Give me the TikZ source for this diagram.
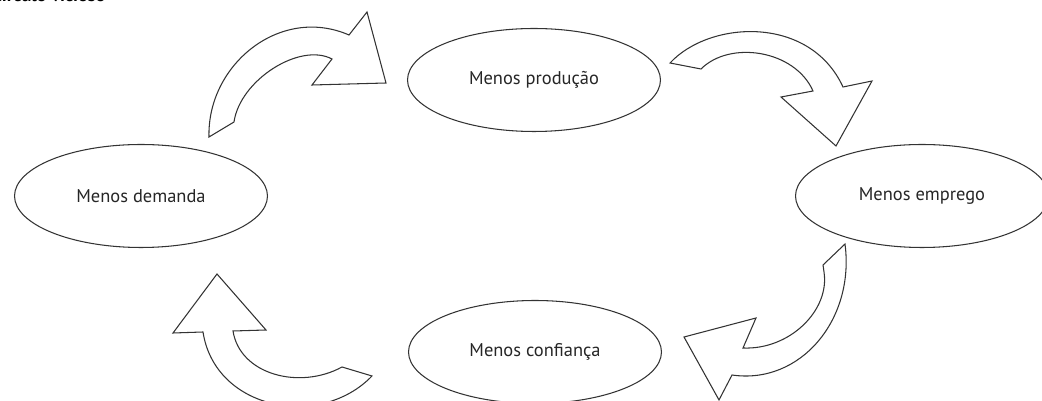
\documentclass[tikz,border=0pt]{standalone}
\usepackage{fontspec}
\setmainfont{PT Sans}
\usetikzlibrary{shapes.geometric}

\begin{document}
\begin{tikzpicture}[x=0.02cm, y=-0.02cm, line width=0.6pt,
    bolha/.style={draw=black!80, ellipse, minimum width=5.06cm, minimum height=2.06cm,
      inner sep=0pt, text=black!85, font=\fontsize{10.5}{12}\selectfont},
    seta/.style={draw=black!80, fill=white, line join=miter}]
  \useasboundingbox (0,0) rectangle (1042,401);
  \node[anchor=base east, font=\bfseries\fontsize{10.5}{12}\selectfont] (titulo) at (112,2) {Círculo vicioso};
  \node[bolha] (producao) at (534,80) {Menos produção};
  \node[bolha] (demanda) at (141,196) {Menos demanda};
  \node[bolha] (emprego) at (922,196) {Menos emprego};
  \node[bolha] (confianca) at (535,352) {Menos confiança};
  % demanda -> producao
  \draw[seta] (209,137) .. controls (207,65) and (280,5) .. (349,35) -- (367,12) -- (386,83)
    -- (312,85) -- (332,59) .. controls (300,42) and (240,80) .. (234,122) -- cycle;
  % producao -> emprego
  \draw[seta] (670,63) .. controls (710,20) and (810,15) .. (843,87) -- (872,81) -- (836,146)
    -- (781,97) -- (813,91) .. controls (795,50) and (730,40) .. (701,69) -- cycle;
  % emprego -> confianca
  \draw[seta] (845,244) .. controls (855,320) and (800,385) .. (732,375) -- (719,400) -- (684,337)
    -- (756,318) -- (743,348) .. controls (790,350) and (830,310) .. (824,272) -- (823,265) -- cycle;
  % confianca -> demanda
  \draw[seta] (372,376) -- (342,367) .. controls (300,390) and (240,375) .. (233,331) -- (266,330)
    -- (217,274) -- (173,333) -- (203,332) .. controls (215,410) and (320,430) .. cycle;
\end{tikzpicture}
\end{document}
